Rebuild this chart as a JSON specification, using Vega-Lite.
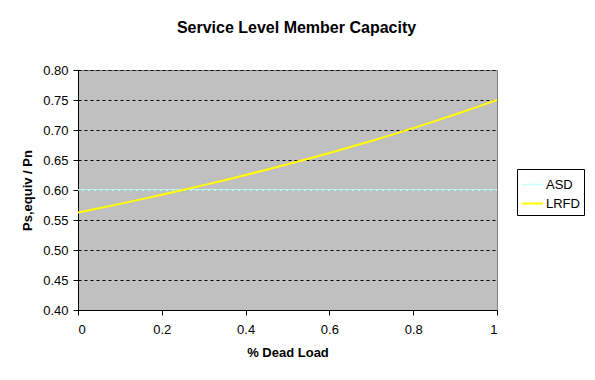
{
  "$schema": "https://vega.github.io/schema/vega-lite/v6.json",
  "width": 419,
  "height": 240,
  "autosize": {"type": "none"},
  "padding": {"left": 78, "top": 70, "right": 98, "bottom": 70},
  "background": "white",
  "title": {
    "text": "Service Level Member Capacity",
    "font": "Liberation Sans",
    "fontSize": 16,
    "fontWeight": "bold",
    "color": "black",
    "anchor": "middle",
    "dx": 9,
    "offset": 28
  },
  "config": {
    "view": {"fill": "#C0C0C0", "stroke": "#808080", "strokeWidth": 1},
    "axis": {
      "labelFont": "Liberation Sans",
      "labelFontSize": 13,
      "labelColor": "black",
      "titleFont": "Liberation Sans",
      "titleFontSize": 13,
      "titleFontWeight": "bold",
      "titleColor": "black",
      "domainColor": "black",
      "tickColor": "black",
      "tickSize": 5
    }
  },
  "data": {
    "values": [
      {"d": 0, "v": 0.6, "s": "ASD"},
      {"d": 1, "v": 0.6, "s": "ASD"},
      {"d": 0, "v": 0.5625, "s": "LRFD"},
      {"d": 0.05, "v": 0.5696, "s": "LRFD"},
      {"d": 0.1, "v": 0.5769, "s": "LRFD"},
      {"d": 0.15, "v": 0.5844, "s": "LRFD"},
      {"d": 0.2, "v": 0.5921, "s": "LRFD"},
      {"d": 0.25, "v": 0.6, "s": "LRFD"},
      {"d": 0.3, "v": 0.6081, "s": "LRFD"},
      {"d": 0.35, "v": 0.6164, "s": "LRFD"},
      {"d": 0.4, "v": 0.625, "s": "LRFD"},
      {"d": 0.45, "v": 0.6338, "s": "LRFD"},
      {"d": 0.5, "v": 0.6429, "s": "LRFD"},
      {"d": 0.55, "v": 0.6522, "s": "LRFD"},
      {"d": 0.6, "v": 0.6618, "s": "LRFD"},
      {"d": 0.65, "v": 0.6716, "s": "LRFD"},
      {"d": 0.7, "v": 0.6818, "s": "LRFD"},
      {"d": 0.75, "v": 0.6923, "s": "LRFD"},
      {"d": 0.8, "v": 0.7031, "s": "LRFD"},
      {"d": 0.85, "v": 0.7143, "s": "LRFD"},
      {"d": 0.9, "v": 0.7258, "s": "LRFD"},
      {"d": 0.95, "v": 0.7377, "s": "LRFD"},
      {"d": 1, "v": 0.75, "s": "LRFD"}
    ]
  },
  "mark": {"type": "line", "clip": true},
  "encoding": {
    "x": {
      "field": "d",
      "type": "quantitative",
      "scale": {"domain": [0, 1], "nice": false},
      "axis": {
        "values": [0, 0.2, 0.4, 0.6, 0.8, 1],
        "format": ".1~f",
        "grid": false,
        "title": "% Dead Load",
        "labelPadding": 8,
        "titlePadding": 10
      }
    },
    "y": {
      "field": "v",
      "type": "quantitative",
      "scale": {"domain": [0.4, 0.8], "nice": false, "zero": false},
      "axis": {
        "values": [0.4, 0.45, 0.5, 0.55, 0.6, 0.65, 0.7, 0.75, 0.8],
        "format": ".2f",
        "grid": true,
        "gridColor": "black",
        "gridDash": [3, 3],
        "gridWidth": 1,
        "title": "Ps,equiv / Pn",
        "labelPadding": 5,
        "titlePadding": 8
      }
    },
    "color": {
      "field": "s",
      "type": "nominal",
      "scale": {"domain": ["ASD", "LRFD"], "range": ["#C8FFFF", "#FFFF00"]},
      "legend": {
        "title": null,
        "orient": "none",
        "legendX": 439,
        "legendY": 99,
        "symbolType": "stroke",
        "symbolStrokeWidth": 2,
        "symbolSize": 441,
        "labelFont": "Liberation Sans",
        "labelFontSize": 13,
        "labelColor": "black",
        "labelOffset": 2,
        "strokeColor": "black",
        "fillColor": "white",
        "padding": 4,
        "rowPadding": 0
      }
    },
    "strokeWidth": {
      "field": "s",
      "type": "nominal",
      "scale": {"domain": ["ASD", "LRFD"], "range": [1.5, 2]},
      "legend": null
    }
  }
}
